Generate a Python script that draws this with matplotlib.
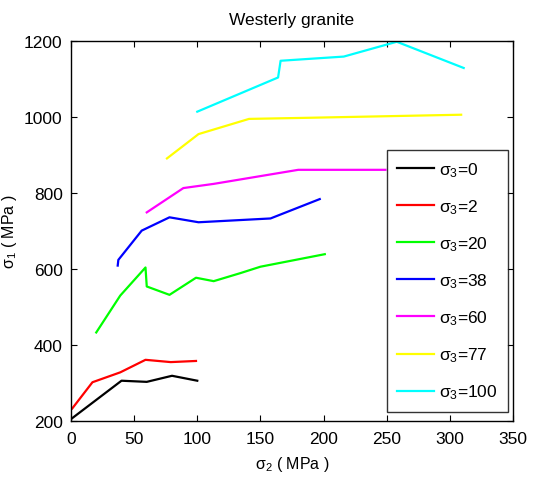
import numpy as np
import matplotlib
matplotlib.use("Agg")
import matplotlib.pyplot as plt

plt.rcParams["font.family"] = ["Liberation Sans", "DejaVu Sans"]
plt.rcParams["mathtext.fontset"] = "custom"
plt.rcParams["mathtext.rm"] = "Liberation Sans"
plt.rcParams["mathtext.it"] = "Liberation Sans"
plt.rcParams["mathtext.bf"] = "Liberation Sans:bold"

# sigma_2 / sigma_1 pairs (MPa) for each confining pressure sigma_3
s3_labels = ["0", "2", "20", "38", "60", "77", "100"]
s2_0 = [0, 40, 60, 80, 100]
s1_0 = [205, 306, 303, 319, 306]
s2_2 = [1, 17, 39, 59, 79, 99]
s1_2 = [233, 302, 328, 361, 355, 358]
s2_20 = [20, 39, 59, 60, 78, 99, 113, 134, 150, 201]
s1_20 = [433, 530, 604, 554, 532, 577, 568, 589, 606, 639]
s2_38 = [37, 37.5, 56, 78, 101, 158, 197]
s1_38 = [609, 624, 701, 736, 723, 733, 784]
s2_60 = [60, 89, 113, 180, 249]
s1_60 = [749, 813, 824, 861, 861]
s2_77 = [76, 101, 141, 189, 309]
s1_77 = [891, 955, 995, 998, 1006]
s2_100 = [100, 164, 166, 216, 258, 311]
s1_100 = [1014, 1104, 1148, 1159, 1198, 1129]

series = [(s2_0, s1_0), (s2_2, s1_2), (s2_20, s1_20), (s2_38, s1_38),
          (s2_60, s1_60), (s2_77, s1_77), (s2_100, s1_100)]
colors = ["#000000", "#ff0000", "#00ff00", "#0000ff",
          "#ff00ff", "#ffff00", "#00ffff"]

fig = plt.figure(figsize=(5.37, 4.85), dpi=100)
ax = fig.add_axes([0.1322, 0.1299, 0.823, 0.7835])

for (x, y), c, lab in zip(series, colors, s3_labels):
    ax.plot(x, y, color=c, lw=1.6, label=r"$\mathregular{\sigma_3}$=" + lab)

ax.set_xlim(0, 350)
ax.set_ylim(200, 1200)
ax.set_xticks(np.arange(0, 351, 50))
ax.set_yticks(np.arange(200, 1201, 200))
ax.tick_params(direction="in", top=True, right=True, length=4,
               width=0.8, labelsize=12.5)
ax.tick_params(axis="x", pad=7)
ax.tick_params(axis="y", pad=6)
for sp in ax.spines.values():
    sp.set_linewidth(1.0)

ax.set_title("Westerly granite", fontsize=12.5, pad=12)
ax.set_xlabel(r"$\mathregular{\sigma_2}$ ( MPa )", fontsize=11.5, labelpad=6)
ax.set_ylabel(r"$\mathregular{\sigma_1}$ ( MPa )", fontsize=11.5)
ax.yaxis.set_label_coords(-0.118, 0.5)

leg = ax.legend(loc="lower right", bbox_to_anchor=(0.989, 0.024),
                borderaxespad=0, fontsize=12.5, frameon=True, fancybox=False,
                handlelength=2.1, handletextpad=0.3, labelspacing=1.06,
                borderpad=0.6)
leg.get_frame().set_edgecolor("black")
leg.get_frame().set_linewidth(1.0)

fig.savefig("out.png", dpi=100, facecolor="white")
